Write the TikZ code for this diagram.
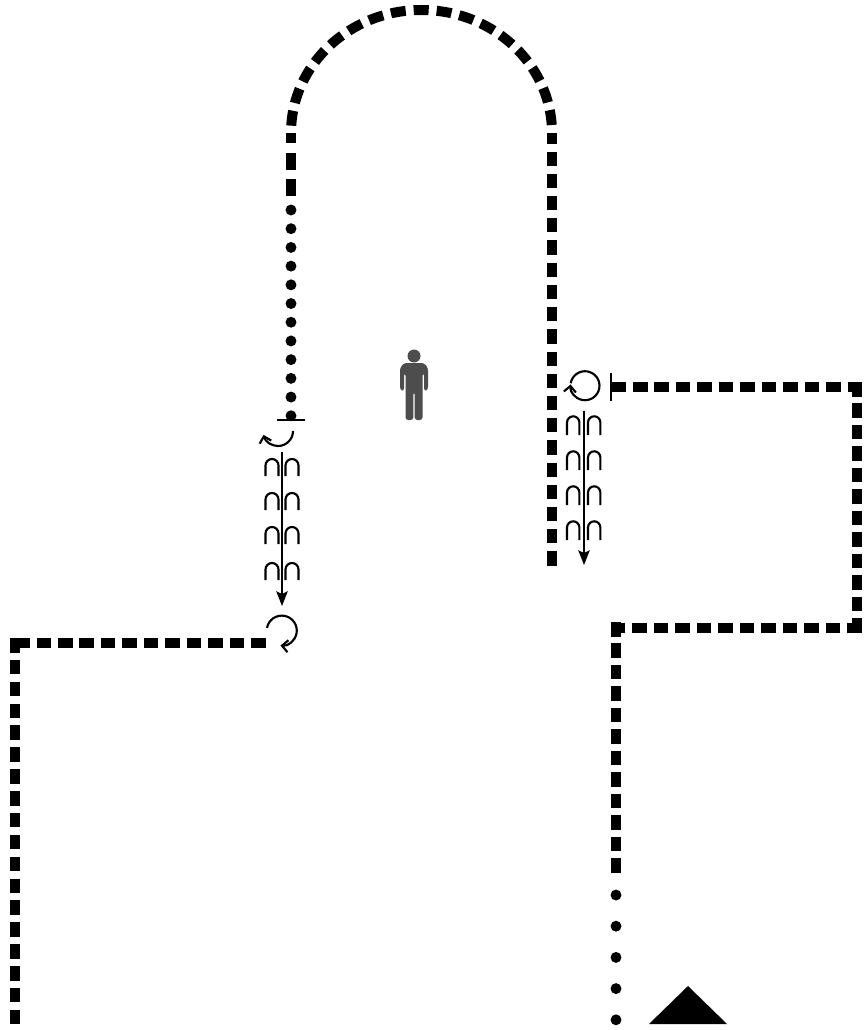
\documentclass[tikz,border=0pt]{standalone}
\usetikzlibrary{arrows.meta}
\definecolor{persongray}{RGB}{77,77,77}

\begin{document}
\begin{tikzpicture}[x=0.75pt,y=-0.75pt]
  \tikzstyle{route}=[black,line width=7.5pt,dash pattern=on 10.9pt off 5.2pt]
  \tikzstyle{dots}=[black,line width=8.2pt,line cap=round]
  \tikzstyle{coil}=[black,line width=1.6pt]
  \tikzstyle{bar}=[black,line width=1.9pt]
  \tikzstyle{f}=[-{Stealth[length=11pt,width=8.5pt,inset=2pt]},black,line width=1.7pt]
  \tikzstyle{turn}=[-{Straight Barb[length=4.5pt,width=9pt]},black,line width=1.6pt]
  \useasboundingbox (0,0) rectangle (867,1030);

  % hall
  \draw[route,dash pattern=on 10.65pt off 6pt] (552,565.5) -- (552,133);
  \draw[route,dash pattern=on 11.25pt off 6pt,dash phase=11.25pt] (552,133) arc (0:-180:130.5 and 123);
  \draw[route,dash pattern=on 7.5pt off 7.5pt on 12.75pt off 6.5pt on 12.75pt off 60pt] (291,133) -- (291,196);
  \draw[dots,dash pattern=on 0pt off 14.03pt] (291,210) -- (291,417);

  % right run
  \draw[route] (611.5,386.5) -- (861.5,386.5);
  \draw[route] (856.5,382) -- (856.5,632);
  \draw[route] (861.5,627.5) -- (611,627.5);
  \draw[route] (616,622) -- (616,873);
  \draw[dots,dash pattern=on 0pt off 23.4pt] (616,895) -- (616,1020);

  % left run
  \draw[route] (265.7,642.7) -- (16,642.7);
  \draw[route,dash pattern=on 10.9pt off 5.5pt] (15.2,638) -- (15.2,1025);

  % left stair
  \draw[bar] (277,420) -- (305,420);
  \draw[turn] (293,431) arc (0:165:15);
  \foreach \y in {459,493,527,563} {
    \draw[coil] (265.5,\y+17) -- (265.5,\y+6.5) arc (180:360:6.5) -- (278.5,\y+17);
    \draw[coil] (285.5,\y+17) -- (285.5,\y+6.5) arc (180:360:6.5) -- (298.5,\y+17);
  }
  \draw[f] (282,452) -- (282,606);
  \draw[turn] (267,628) arc (190:455:15);

  % right stair
  \draw[bar] (611,373) -- (611,401);
  \draw[turn] (570.7,383.2) arc (-170:185:14.5);
  \foreach \y in {416,451,486,521} {
    \draw[coil] (567,\y+19) -- (567,\y+6.5) arc (180:360:6.2) -- (579.4,\y+19);
    \draw[coil] (588,\y+19) -- (588,\y+6.5) arc (180:360:6.2) -- (600.4,\y+19);
  }
  \draw[f] (584,411) -- (584,565);

  % person
  \fill[persongray] (414,356) circle (6.5);
  \fill[persongray,rounded corners=2pt] (400,390) -- (400,368) -- (404,363) -- (424,363) -- (428,368)
    -- (428,390) -- (424,391) -- (424,373) -- (422.5,373) -- (422.5,420) -- (414.7,420) -- (414.7,392)
    -- (413.3,392) -- (413.3,420) -- (405.5,420) -- (405.5,373) -- (404,373) -- (404,391) -- cycle;

  % triangle
  \fill[black] (649,1024) -- (688,986) -- (727,1024) -- cycle;
\end{tikzpicture}
\end{document}
